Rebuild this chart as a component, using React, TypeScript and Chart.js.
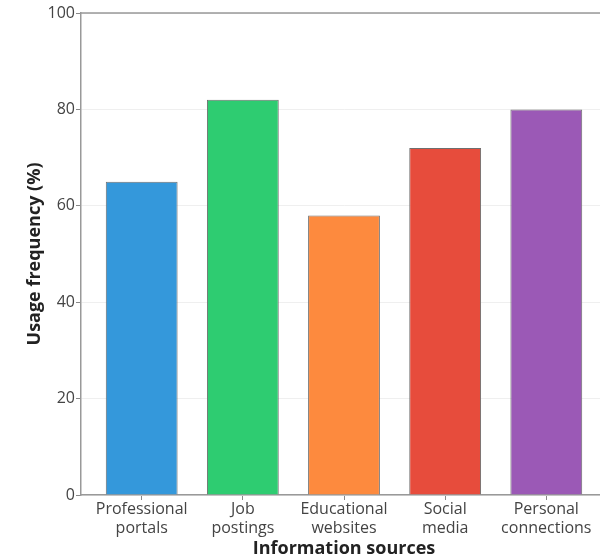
import React, { useEffect, useRef } from "react";
import { Chart, registerables } from "chart.js";

Chart.register(...registerables);

const categories: string[][] = [
  ["Professional", "portals"],
  ["Job", "postings"],
  ["Educational", "websites"],
  ["Social", "media"],
  ["Personal", "connections"],
];
const usageValues: number[] = [65, 82, 58, 72, 80];
const barColors: string[] = ["#3498db", "#2ecc71", "#fd8a3e", "#e74c3c", "#9b59b6"];
const yTicks: number[] = [0, 20, 40, 60, 80, 100];
const xTitle = "Information sources";
const yTitle = "Usage frequency (%)";

const FONT = "'Open Sans', 'Noto Sans', sans-serif";

const topBorder = {
  id: "topBorder",
  afterDraw(chart: any) {
    const { ctx, chartArea } = chart;
    ctx.save();
    ctx.strokeStyle = "#999";
    ctx.lineWidth = 1.5;
    ctx.beginPath();
    ctx.moveTo(chartArea.left, chartArea.top);
    ctx.lineTo(chartArea.right, chartArea.top);
    ctx.stroke();
    ctx.restore();
  },
};

export default function App() {
  const ref = useRef<HTMLCanvasElement | null>(null);
  useEffect(() => {
    if (!ref.current) return;
    const chart = new Chart(ref.current, {
      type: "bar",
      data: {
        datasets: [
          {
            data: usageValues.map((v, i) => ({ x: i, y: v })) as any,
            backgroundColor: barColors,
            borderColor: "#6f6f6f",
            borderWidth: 1,
            barPercentage: 0.71,
            categoryPercentage: 1,
          },
        ],
      },
      plugins: [topBorder],
      options: {
        animation: false,
        responsive: false,
        devicePixelRatio: 1,
        layout: { padding: { top: 13, right: 13, bottom: 0, left: 0 } },
        plugins: { legend: { display: false }, tooltip: { enabled: false } },
        scales: {
          x: {
            type: "linear",
            offset: false,
            min: -0.6,
            max: 4.6,
            afterBuildTicks: (scale: any) => {
              scale.ticks = categories.map((_, i) => ({ value: i }));
            },
            afterFit: (scale: any) => {
              scale.height = 65;
            },
            grid: {
              offset: false,
              drawOnChartArea: false,
              tickLength: 5,
              tickColor: "#888",
            },
            border: { color: "#999", width: 1.5 },
            ticks: {
              padding: 0,
              color: "#444",
              font: { family: FONT, size: 16, lineHeight: 1.2 },
              callback: (v: any) => categories[Math.round(Number(v))] ?? "",
              maxRotation: 0,
              autoSkip: false,
            },
            title: {
              display: true,
              text: xTitle,
              color: "#222",
              font: { family: FONT, size: 18, weight: "bold" },
              padding: { top: 0, bottom: 0 },
            },
          },
          y: {
            min: 0,
            max: 100,
            afterBuildTicks: (scale: any) => {
              scale.ticks = yTicks.map((v) => ({ value: v }));
            },
            afterFit: (scale: any) => {
              scale.width = 81;
            },
            grid: {
              color: "#efefef",
              tickLength: 5,
              tickColor: "#888",
            },
            border: { color: "#999", width: 1.5 },
            ticks: {
              padding: 1,
              color: "#444",
              font: { family: FONT, size: 16 },
            },
            title: {
              display: true,
              text: yTitle,
              color: "#222",
              font: { family: FONT, size: 18, weight: "bold" },
              padding: { top: 24, bottom: 0 },
            },
          },
        },
      },
    });
    return () => chart.destroy();
  }, []);
  return (
    <div
      style={{
        position: "fixed",
        left: 0,
        top: 0,
        width: 600,
        height: 560,
        overflow: "hidden",
        background: "#fff",
      }}
    >
      <canvas ref={ref} width={620} height={560} style={{ display: "block" }} />
    </div>
  );
}
